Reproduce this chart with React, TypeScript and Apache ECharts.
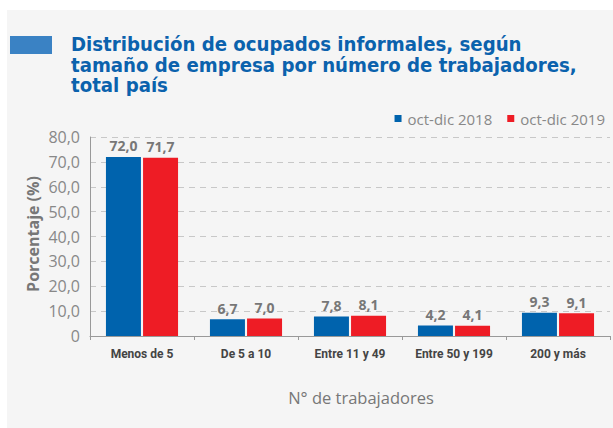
import React, { useEffect, useRef } from "react";
import * as echarts from "echarts";

const categories = ["Menos de 5", "De 5 a 10", "Entre 11 y 49", "Entre 50 y 199", "200 y más"];
const series2018 = [72.0, 6.7, 7.8, 4.2, 9.3];
const series2019 = [71.7, 7.0, 8.1, 4.1, 9.1];
const seriesNames = ["oct-dic 2018", "oct-dic 2019"];
const titleLines = [
  "Distribución de ocupados informales, según",
  "tamaño de empresa por número de trabajadores,",
  "total país",
];

const comma = (v: number) => v.toFixed(1).replace(".", ",");
const NARROW = "'DejaVu Sans Condensed', 'Liberation Sans Narrow', sans-serif";
const OPEN = "'Open Sans', 'Noto Sans', sans-serif";

export default function App() {
  const ref = useRef<HTMLDivElement>(null);
  useEffect(() => {
    if (!ref.current) return;
    const chart = echarts.init(ref.current, null, { renderer: "svg" });
    const labelStyle = {
      show: true,
      position: "top" as const,
      distance: 4,
      fontFamily: OPEN,
      fontWeight: "bold" as const,
      fontSize: 14,
      color: "#777777",
      formatter: (p: any) => comma(p.value),
    };
    chart.setOption({
      animation: false,
      backgroundColor: "#ffffff",
      graphic: [
        { type: "rect", silent: true, z: -10, shape: { x: 7, y: 10, width: 606, height: 418 }, style: { fill: "#f5f5f5" } },
        { type: "rect", shape: { x: 10, y: 36, width: 42, height: 18 }, style: { fill: "#3a82c4" } },
        {
          type: "text",
          x: 33,
          y: 234,
          rotation: Math.PI / 2,
          style: {
            text: "Porcentaje (%)",
            fontFamily: OPEN,
            fontWeight: "bold",
            fontSize: 16,
            fill: "#777777",
            align: "center",
            verticalAlign: "middle",
          },
        },
        {
          type: "text",
          x: 361,
          y: 397,
          style: {
            text: "N° de trabajadores",
            fontFamily: OPEN,
            fontSize: 16.5,
            fill: "#777777",
            align: "center",
            verticalAlign: "middle",
          },
        },
      ],
      title: {
        text: titleLines.join("\n"),
        left: 66,
        top: 29,
        textStyle: {
          fontFamily: NARROW,
          fontWeight: "bold",
          fontSize: 20.2,
          lineHeight: 20.4,
          color: "#0b62ad",
        },
      },
      legend: {
        data: seriesNames,
        right: 3,
        top: 106,
        icon: "rect",
        itemWidth: 7,
        itemHeight: 7,
        itemGap: 15,
        textStyle: { fontFamily: OPEN, fontSize: 15, color: "#888888", padding: [0, 0, 0, 1] },
      },
      grid: { left: 90, right: 3, top: 137, bottom: 92, containLabel: false },
      xAxis: {
        type: "category",
        data: categories,
        axisLine: { lineStyle: { color: "#999999", width: 1 } },
        axisTick: { show: true, length: 4, lineStyle: { color: "#999999" } },
        axisLabel: {
          interval: 0,
          fontFamily: "Roboto, sans-serif",
          fontWeight: "bold",
          fontSize: 12,
          color: "#444444",
          margin: 12,
        },
      },
      yAxis: {
        type: "value",
        min: 0,
        max: 80,
        interval: 10,
        axisLine: { show: true, lineStyle: { color: "#999999" } },
        axisTick: { show: false },
        splitLine: { lineStyle: { color: "#c8c8c8", type: [6, 5] } },
        axisLabel: {
          fontFamily: OPEN,
          fontSize: 16,
          color: "#888888",
          margin: 10,
          formatter: (v: number) => (v === 0 ? "0" : comma(v)),
        },
      },
      series: [
        {
          name: seriesNames[0],
          type: "bar",
          data: series2018,
          barWidth: 35,
          barGap: "6%",
          itemStyle: { color: "#0063ad" },
          label: labelStyle,
        },
        {
          name: seriesNames[1],
          type: "bar",
          data: series2019,
          barWidth: 35,
          barGap: "6%",
          itemStyle: { color: "#ee1c25" },
          label: labelStyle,
        },
      ],
    });
    return () => chart.dispose();
  }, []);
  return <div ref={ref} style={{ position: "fixed", left: 0, top: 0, width: 613, height: 428 }} />;
}
